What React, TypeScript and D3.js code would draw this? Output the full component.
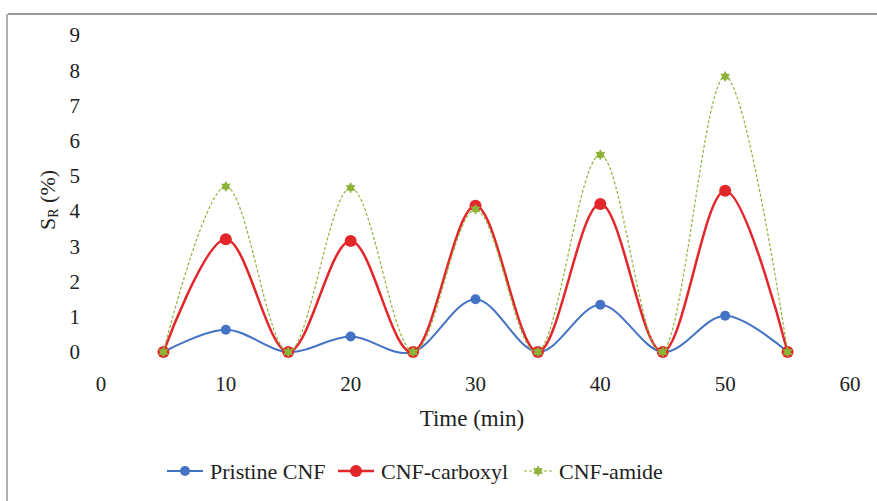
import React from 'react';
import * as d3 from 'd3';

const times = [5, 10, 15, 20, 25, 30, 35, 40, 45, 50, 55];
const pristine = [0, 0.63, 0, 0.44, 0, 1.5, 0, 1.34, 0, 1.03, 0];
const carboxyl = [0, 3.2, 0, 3.15, 0, 4.15, 0, 4.2, 0, 4.58, 0];
const amide = [0, 4.7, 0, 4.66, 0, 4.05, 0, 5.6, 0, 7.82, 0];
const xTicks = [0, 10, 20, 30, 40, 50, 60];
const yTicks = [0, 1, 2, 3, 4, 5, 6, 7, 8, 9];

const seriesList = [
  { name: 'Pristine CNF', values: pristine, color: '#4472C4', width: 2, dash: '', marker: 'circle', r: 5 },
  { name: 'CNF-carboxyl', values: carboxyl, color: '#E3262A', width: 2.5, dash: '', marker: 'circle', r: 6 },
  { name: 'CNF-amide', values: amide, color: '#8DB33A', width: 1.2, dash: '3,2', marker: 'star', r: 5 },
];

const width = 877;
const height = 501;
const font = "'Liberation Serif', 'DejaVu Serif', serif";

const Marker = ({ x, y, s }: { x: number; y: number; s: any }) => {
  if (s.marker === 'circle') {
    return <circle cx={x} cy={y} r={s.r} fill={s.color} />;
  }
  const star = d3.symbol().type(d3.symbolAsterisk).size(70)();
  return (
    <g transform={`translate(${x},${y})`}>
      <circle r={3.5} fill={s.color} />
      <path d={star || ''} stroke={s.color} strokeWidth={1.5} fill="none" />
    </g>
  );
};

const App = () => {
  const xScale = d3.scaleLinear().domain([0, 60]).range([101, 850]);
  const yScale = d3.scaleLinear().domain([0, 9]).range([352, 35]);

  const lineFn = d3
    .line<number>()
    .curve(d3.curveCardinal.tension(0))
    .x((_, i) => xScale(times[i]))
    .y((d) => yScale(d));

  // legend line start, line length
  const legendX = [167, 338, 524];
  const legendLen = [36, 36, 28];

  return (
    <div style={{ position: 'absolute', left: 0, top: 0 }}>
      <svg width={width} height={height} style={{ background: '#fff', display: 'block' }}>
        {/* frame */}
        <line x1={8} x2={width} y1={14} y2={14} stroke="#777" strokeWidth={1.5} />
        <line x1={7} x2={7} y1={14} y2={height} stroke="#999" strokeWidth={1.5} />

        {/* y ticks */}
        {yTicks.map((t) => (
          <text key={t} x={80} y={yScale(t)} dy="0.35em" textAnchor="end" fontFamily={font} fontSize={21} fill="#222">
            {t}
          </text>
        ))}
        {/* x ticks */}
        {xTicks.map((t) => (
          <text key={t} x={xScale(t)} y={384} dy="0.35em" textAnchor="middle" fontFamily={font} fontSize={21} fill="#222">
            {t}
          </text>
        ))}

        <text x={472} y={418} dy="0.35em" textAnchor="middle" fontFamily={font} fontSize={23} fill="#222">
          Time (min)
        </text>
        <text
          transform="translate(47,200) rotate(-90)"
          textAnchor="middle"
          dy="0.35em"
          fontFamily={font}
          fontSize={22}
          fill="#222"
        >
          S<tspan fontSize={14} dy="3">R</tspan>
          <tspan dy="-3"> (%)</tspan>
        </text>

        {seriesList.map((s) => (
          <g key={s.name}>
            <path d={lineFn(s.values) || ''} fill="none" stroke={s.color} strokeWidth={s.width} strokeDasharray={s.dash} />
            {s.values.map((v, i) => (
              <Marker key={i} x={xScale(times[i])} y={yScale(v)} s={s} />
            ))}
          </g>
        ))}

        {/* legend */}
        {seriesList.map((s, i) => (
          <g key={s.name} transform={`translate(${legendX[i]},471)`}>
            <line x1={0} x2={legendLen[i]} y1={0} y2={0} stroke={s.color} strokeWidth={s.width} strokeDasharray={s.dash} />
            <Marker x={legendLen[i] / 2} y={0} s={s} />
            <text x={legendLen[i] + 7} y={0} dy="0.35em" fontFamily={font} fontSize={22} fill="#222">
              {s.name}
            </text>
          </g>
        ))}
      </svg>
    </div>
  );
};

export default App;
